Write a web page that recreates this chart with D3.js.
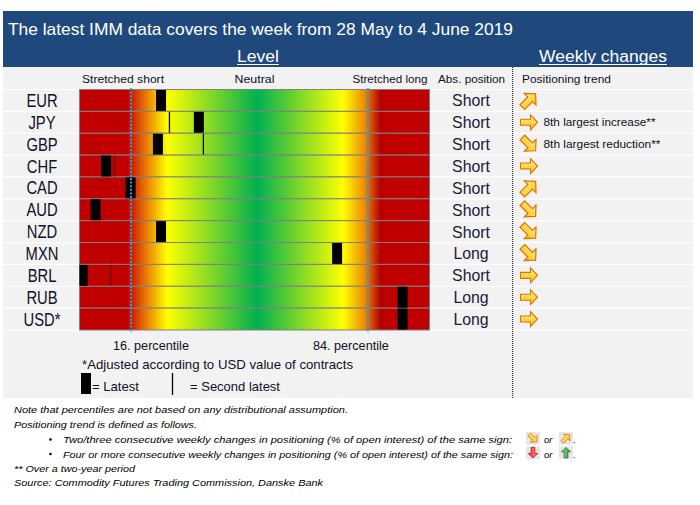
<!DOCTYPE html>
<html><head><meta charset="utf-8">
<script src="https://cdn.jsdelivr.net/npm/d3@7"></script>
<style>
html,body{margin:0;padding:0;background:#fff;}
svg{display:block;font-family:"Liberation Sans",Arial,sans-serif;}
</style></head>
<body>
<svg id="chart" width="700" height="505"></svg>
<script>
// ---------- DATA ----------
const title = "The latest IMM data covers the week from 28 May to 4 June 2019";
const currencies = ["EUR","JPY","GBP","CHF","CAD","AUD","NZD","MXN","BRL","RUB","USD*"];
// positions on 0-100 percentile-range bar
const latest       = [23.3, 34.1, 22.4, 7.6, 14.6, 4.6, 23.3, 73.6, 0.9, 92.3, 92.3];
const secondLatest = [23.3, 25.7, 35.4, 10.0, 14.6, 4.6, 23.3, 73.6, 8.9, 92.3, 92.3];
const absPosition  = ["Short","Short","Short","Short","Short","Short","Short","Long","Short","Long","Long"];
const trend        = ["up","right","down","right","up","down","down","down","right","right","right"];
const trendNote    = ["","8th largest increase**","8th largest reduction**","","","","","","","",""];
const zoneLabels   = ["Stretched short","Neutral","Stretched long"];
const percentileValues = [14.7, 82.4];
const percentileLabels = ["16. percentile","84. percentile"];
const notes = [
  "Note that percentiles are not based on any distributional assumption.",
  "Positioning trend is defined as follows."
];
const bullets = [
  "Two/three consecutive weekly changes in positioning (% of open interest) of the same sign:",
  "Four or more consecutive weekly changes in positioning (% of open interest) of the same sign:"
];
const footer = ["** Over a two-year period","Source:  Commodity Futures Trading Commission, Danske Bank"];

// ---------- LAYOUT ----------
const svg = d3.select("#chart");
const defs = svg.append("defs");
const x = d3.scaleLinear().domain([0,100]).range([79.5,429.5]);
const y = d3.scaleBand().domain(currencies).range([89.5,330]).padding(0);
const dark = "#101028";

function fit(sel, w){ sel.attr("textLength", w).attr("lengthAdjust","spacingAndGlyphs"); return sel; }
function condense(sel, f){ sel.each(function(){ const l=this.getComputedTextLength();
  d3.select(this).attr("textLength", l*f).attr("lengthAdjust","spacingAndGlyphs"); }); return sel; }

// backgrounds
svg.append("rect").attr("x",3).attr("y",67).attr("width",690).attr("height",331).attr("fill","#f2f2f2");
svg.append("rect").attr("x",3).attr("y",11).attr("width",690).attr("height",56).attr("fill","#1f497d");

// header texts
fit(svg.append("text").attr("x",8).attr("y",35).attr("fill","#fff").attr("font-size",17).text(title), 505);
fit(svg.append("text").attr("x",237).attr("y",62).attr("fill","#fff").attr("font-size",16).text("Level"),42);
svg.append("line").attr("x1",237).attr("x2",279).attr("y1",64.5).attr("y2",64.5).attr("stroke","#fff").attr("stroke-width",1.2);
fit(svg.append("text").attr("x",539).attr("y",62).attr("fill","#fff").attr("font-size",16).text("Weekly changes"),128);
svg.append("line").attr("x1",539).attr("x2",667).attr("y1",64.5).attr("y2",64.5).attr("stroke","#fff").attr("stroke-width",1.2);

// column header row
const zl = svg.append("g").attr("font-size",10).attr("fill",dark);
fit(zl.append("text").attr("x",x(0)+2.5).attr("y",83).text(zoneLabels[0]),82);
fit(zl.append("text").attr("x",x(50)).attr("y",83).attr("text-anchor","middle").text(zoneLabels[1]),40);
fit(zl.append("text").attr("x",x(100)-2).attr("y",83).attr("text-anchor","end").text(zoneLabels[2]),75);
fit(zl.append("text").attr("x",438).attr("y",83).text("Abs. position"),67);
fit(zl.append("text").attr("x",522).attr("y",83).text("Positioning trend"),89);

// white row separators in label & right columns
const seps = currencies.map(c=>y(c)).concat([y.range()[1]]);
svg.append("g").selectAll("line").data(seps).join("line")
  .attr("x1",3).attr("x2",x(0)).attr("y1",d=>d).attr("y2",d=>d).attr("stroke","#fff").attr("stroke-width",1.2);
svg.append("g").selectAll("line").data(seps).join("line")
  .attr("x1",x(100)).attr("x2",693).attr("y1",d=>d).attr("y2",d=>d).attr("stroke","#fff").attr("stroke-width",1.2);

// gradient
const grad = defs.append("linearGradient").attr("id","lvl").attr("gradientUnits","userSpaceOnUse")
  .attr("x1",x(0)).attr("x2",x(100)).attr("y1",0).attr("y2",0);
[[0,"#c00000"],[0.136,"#c00000"],[0.19,"#e97a05"],[0.25,"#ffff00"],[0.508,"#00b050"],
 [0.753,"#ffff00"],[0.815,"#ec8a05"],[0.86,"#b40000"],[0.875,"#c00000"],[1,"#c00000"]]
 .forEach(s=>grad.append("stop").attr("offset",s[0]).attr("stop-color",s[1]));

defs.append("clipPath").attr("id","barclip").append("rect")
  .attr("x",x(0)).attr("y",y.range()[0]).attr("width",x(100)-x(0)).attr("height",y.range()[1]-y.range()[0]);

// bars
const rows = svg.append("g").selectAll("g").data(currencies).join("g");
rows.append("rect").attr("x",x(0)).attr("y",d=>y(d)).attr("width",x(100)-x(0)).attr("height",y.bandwidth())
  .attr("fill","url(#lvl)").attr("stroke","#808080").attr("stroke-width",1);

// markers
const mk = svg.append("g").attr("clip-path","url(#barclip)");
mk.selectAll("line.sec").data(currencies).join("line").attr("class","sec")
  .attr("x1",(d,i)=>x(secondLatest[i])).attr("x2",(d,i)=>x(secondLatest[i]))
  .attr("y1",d=>y(d)+0.5).attr("y2",d=>y(d)+y.bandwidth()-0.5)
  .attr("stroke",(d,i)=>secondLatest[i]<13?"#700000":"#000").attr("stroke-width",1.3);
mk.selectAll("rect.lat").data(currencies).join("rect").attr("class","lat")
  .attr("x",(d,i)=>x(latest[i])-5).attr("y",d=>y(d)+0.5).attr("width",10).attr("height",y.bandwidth()-1)
  .attr("fill","#000");

// percentile dotted lines
svg.append("g").selectAll("line").data(percentileValues).join("line")
  .attr("x1",d=>x(d)).attr("x2",d=>x(d)).attr("y1",88).attr("y2",333)
  .attr("stroke","#2aa2e6").attr("stroke-width",2).attr("stroke-dasharray","2,1.6");

// currency labels
condense(svg.append("g").selectAll("text").data(currencies).join("text")
  .attr("x",42).attr("y",d=>y(d)+y.bandwidth()/2+6.5).attr("text-anchor","middle")
  .attr("font-size",18).attr("fill",dark).text(d=>d), 0.82);

// abs position
condense(svg.append("g").selectAll("text").data(currencies).join("text")
  .attr("x",471).attr("y",d=>y(d)+y.bandwidth()/2+6).attr("text-anchor","middle")
  .attr("font-size",16.5).attr("fill","#1a1a3a").text((d,i)=>absPosition[i]), 0.96);

// vertical dotted separator
svg.append("line").attr("x1",512.7).attr("x2",512.7).attr("y1",67).attr("y2",398)
  .attr("stroke","#000").attr("stroke-width",1).attr("stroke-dasharray","1,1");

// arrow gradients
function vgrad(id,c1,c2){ const g=defs.append("linearGradient").attr("id",id).attr("x1",0).attr("x2",0).attr("y1",0).attr("y2",1);
  g.append("stop").attr("offset",0).attr("stop-color",c1); g.append("stop").attr("offset",1).attr("stop-color",c2); }
vgrad("ag","#fff0a0","#ffc000");
vgrad("rg","#ff9a9a","#e03030");
vgrad("gg","#8fdc8f","#2e9e3e");
const arrowPath = "M-8.5,-3L1.5,-3L1.5,-7.5L8.5,0L1.5,7.5L1.5,3L-8.5,3Z";
const rot = {right:0, up:-45, down:45};

svg.append("g").selectAll("path").data(currencies).join("path")
  .attr("d",arrowPath)
  .attr("transform",(d,i)=>`translate(529,${y(d)+y.bandwidth()/2}) rotate(${rot[trend[i]]}) scale(${trend[i]==="right"?1:1.1})`)
  .attr("fill","url(#ag)").attr("stroke","#e07000").attr("stroke-width",1.1).attr("stroke-linejoin","miter");

// trend notes
const tn = svg.append("g").attr("font-size",10.5).attr("fill",dark);
currencies.forEach((c,i)=>{ if(trendNote[i]){
  const t = tn.append("text").attr("x",543.5).attr("y",y(c)+y.bandwidth()/2+4).text(trendNote[i]);
  fit(t, trendNote[i].includes("increase")?112:117);
}});

// percentile labels
const pl = svg.append("g").attr("font-size",13.5).attr("fill",dark);
fit(pl.append("text").attr("x",x(percentileValues[0])-18).attr("y",350).text(percentileLabels[0]),76);
fit(pl.append("text").attr("x",x(percentileValues[1])+21).attr("y",350).attr("text-anchor","end").text(percentileLabels[1]),76);
fit(pl.append("text").attr("x",82).attr("y",369).text("*Adjusted according to USD value of contracts"),271);

// legend
svg.append("rect").attr("x",81).attr("y",373).attr("width",10).attr("height",21).attr("fill","#000");
fit(pl.append("text").attr("x",92).attr("y",391).text("= Latest"),47);
svg.append("line").attr("x1",172.5).attr("x2",172.5).attr("y1",373).attr("y2",395).attr("stroke","#000").attr("stroke-width",1.3);
fit(pl.append("text").attr("x",190).attr("y",391).text("= Second latest"),90);

// footnotes
const fn = svg.append("g").attr("font-size",9.5).attr("font-style","italic").attr("fill","#000");
fit(fn.append("text").attr("x",14).attr("y",413).text(notes[0]),334);
fit(fn.append("text").attr("x",14).attr("y",428).text(notes[1]),183);
bullets.forEach((b,i)=>{
  const yy = 443 + i*14.5;
  fn.append("circle").attr("cx",50.5).attr("cy",yy-3.5).attr("r",1.3).attr("fill","#000");
  fit(fn.append("text").attr("x",63).attr("y",yy).text(b), i===0?449:450);
  fn.append("text").attr("x",544).attr("y",yy).text("or");
  fn.append("text").attr("x",573).attr("y",yy).attr("font-style","normal").text(".");
  [526,559].forEach((bx,j)=>{
    svg.append("rect").attr("x",bx).attr("y",yy-11).attr("width",14).attr("height",12.5).attr("fill","#e6e6e6");
    let tr, fill, stroke;
    if(i===0){ tr = j===0?45:-45; fill="url(#ag)"; stroke="#e07000"; }
    else { tr = j===0?90:-90; fill = j===0?"url(#rg)":"url(#gg)"; stroke = j===0?"#c00000":"#1e6e2a"; }
    svg.append("path").attr("d",arrowPath)
      .attr("transform",`translate(${bx+7},${yy-4.8}) rotate(${tr}) scale(0.62)`)
      .attr("fill",fill).attr("stroke",stroke).attr("stroke-width",1.2);
  });
});
fit(fn.append("text").attr("x",14).attr("y",472).text(footer[0]),121);
fit(fn.append("text").attr("x",14).attr("y",486).text(footer[1]),309);
</script>
</body></html>
